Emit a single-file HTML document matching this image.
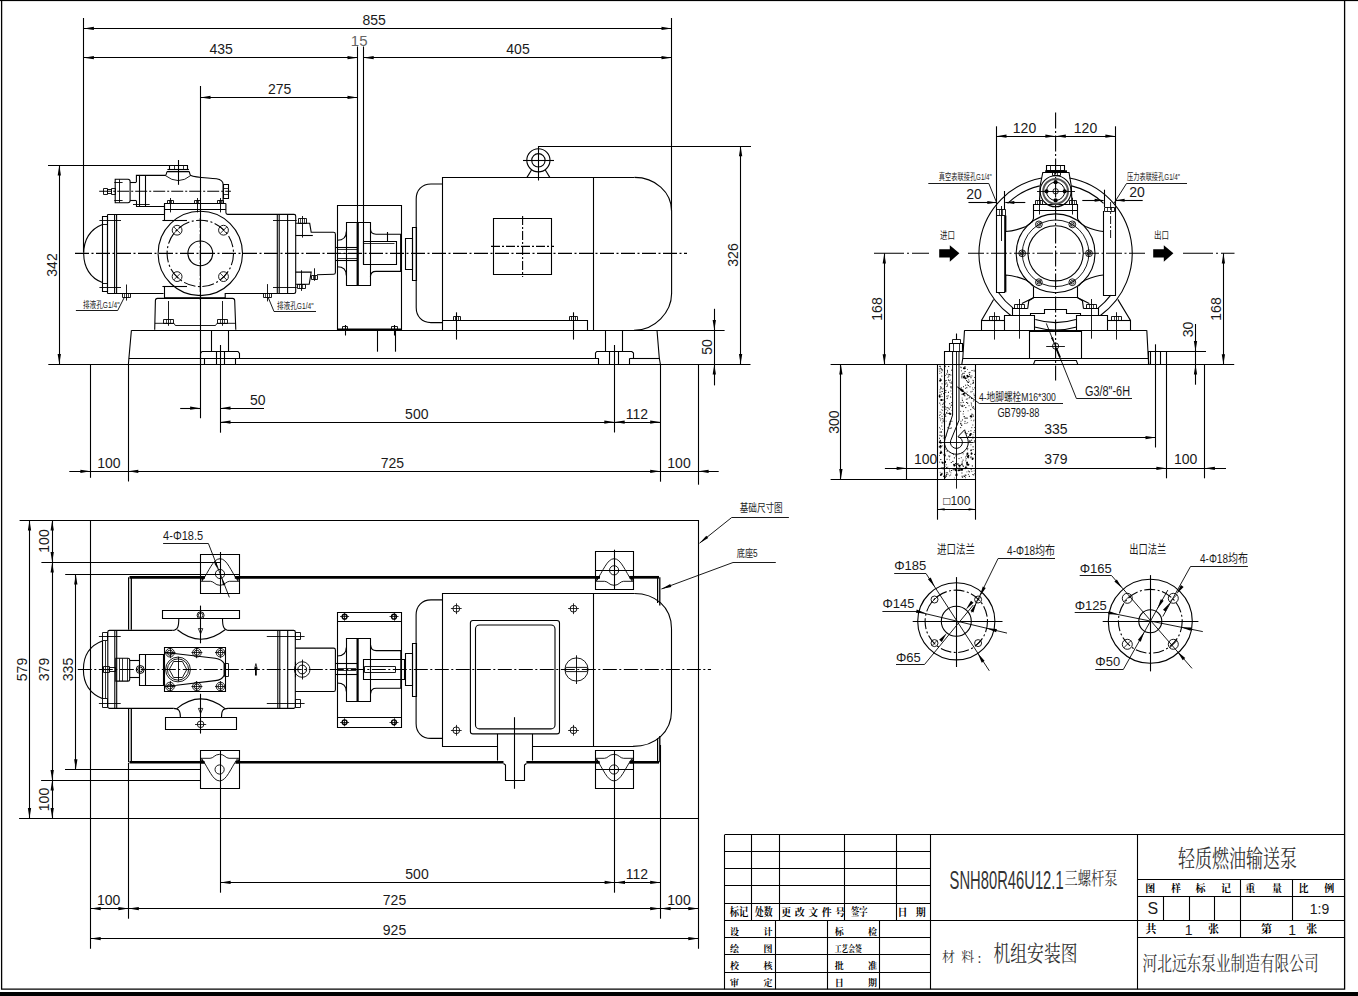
<!DOCTYPE html>
<html><head><meta charset="utf-8"><title>drawing</title>
<style>html,body{margin:0;padding:0;background:#fff;overflow:hidden;font-family:"Liberation Sans",sans-serif}svg{display:block}
svg text{fill:#1a1a1a;stroke:none;font-family:"Liberation Sans","Noto Sans CJK SC",sans-serif}
svg text.d{font-size:14px;text-anchor:middle}
svg text.b{font-family:"Liberation Serif","Noto Serif CJK SC",serif;font-weight:bold;fill:#000}
svg text.g{font-family:"Liberation Serif","Noto Serif CJK SC",serif;fill:#333}</style>
</head><body>
<svg width="1358" height="996" viewBox="0 0 1358 996" fill="none" stroke="#000" stroke-width="1.1">
<rect x="0" y="0" width="1358" height="996" fill="#fff" stroke="none"/>
<!-- frame -->
<path d="M1.6 0L1.6 989.2L1344.6 989.2L1344.6 0" stroke-width="1.3"/>
<rect x="0" y="0" width="1358" height="1.1" fill="#000" stroke="none"/>
<rect x="0" y="992" width="1358" height="4" fill="#000" stroke="none"/>
<!-- front view -->
<path d="M83.5 18L83.5 252"/>
<path d="M671.5 18L671.5 211"/>
<path d="M357.5 46.5L357.5 285"/>
<path d="M363.5 46.5L363.5 264"/>
<path d="M200.5 86L200.5 418.2"/>
<path d="M83.7 28.5L671.7 28.5"/>
<path d="M83.7 28.4L93.9 26.75L93.9 30.05Z" fill="#000" stroke="none"/>
<path d="M671.7 28.4L661.5 30.05L661.5 26.75Z" fill="#000" stroke="none"/>
<text class="d" x="374.2" y="25.2">855</text>
<path d="M83.7 57.5L357.7 57.5"/>
<path d="M83.7 57.7L93.9 56.05L93.9 59.35Z" fill="#000" stroke="none"/>
<path d="M357.7 57.7L347.5 59.35L347.5 56.05Z" fill="#000" stroke="none"/>
<path d="M363.5 57.5L671.7 57.5"/>
<path d="M363.5 57.7L373.7 56.05L373.7 59.35Z" fill="#000" stroke="none"/>
<path d="M671.7 57.7L661.5 59.35L661.5 56.05Z" fill="#000" stroke="none"/>
<text class="d" x="221.2" y="54.4">435</text>
<text class="d" x="518" y="54.4">405</text>
<text x="359.2" y="46.2" text-anchor="middle" font-size="15" style="fill:#666">15</text>
<path d="M200.3 97.5L357.7 97.5"/>
<path d="M200.3 97.4L210.5 95.75L210.5 99.05Z" fill="#000" stroke="none"/>
<path d="M357.7 97.4L347.5 99.05L347.5 95.75Z" fill="#000" stroke="none"/>
<text class="d" x="279.6" y="94">275</text>
<path d="M48 165.5L178.5 165.5"/>
<path d="M59.5 165.3L59.5 364.3"/>
<path d="M59.3 165.3L60.95 175.5L57.65 175.5Z" fill="#000" stroke="none"/>
<path d="M59.3 364.3L57.65 354.1L60.95 354.1Z" fill="#000" stroke="none"/>
<text class="d" transform="translate(57 265) rotate(-90)">342</text>
<path d="M48.3 364.5L750.5 364.5"/>
<path d="M538.3 146.5L751 146.5"/>
<path d="M740.5 146.1L740.5 364.3"/>
<path d="M740.6 146.1L742.25 156.3L738.95 156.3Z" fill="#000" stroke="none"/>
<path d="M740.6 364.3L738.95 354.1L742.25 354.1Z" fill="#000" stroke="none"/>
<text class="d" transform="translate(738 255) rotate(-90)">326</text>
<path d="M587 330.5L724.6 330.5"/>
<path d="M714.5 308.8L714.5 385.4"/>
<path d="M714.3 330.3L712.65 320.1L715.95 320.1Z" fill="#000" stroke="none"/>
<path d="M714.3 364.3L715.95 374.5L712.65 374.5Z" fill="#000" stroke="none"/>
<text class="d" transform="translate(712 347) rotate(-90)">50</text>
<path d="M131.4 330.5L657 330.5"/>
<path d="M131.4 330.3L128.9 358.3L128.4 364.3"/>
<path d="M657 330.3L659.3 358.3L660.4 364.3"/>
<path d="M128.9 358.5L598.6 358.5"/>
<path d="M629.8 358.5L659.8 358.5"/>
<path d="M211.5 330.3L211.5 351.8"/>
<path d="M228.5 330.3L228.5 351.8"/>
<path d="M200.5 364.3L200.5 353.5L202 351.5L238 351.5L239.5 353.5L239.5 358.3"/>
<path d="M204.5 358.3L204.5 364.3"/>
<path d="M216.5 351.8L216.5 364.3"/>
<path d="M224.5 351.8L224.5 364.3"/>
<path d="M235.5 358.3L235.5 364.3"/>
<path d="M220.5 345L220.5 432.7"/>
<path d="M605.5 330.3L605.5 351.5"/>
<path d="M622.5 330.3L622.5 351.5"/>
<path d="M598.6 358.5L595.5 358.5L595.5 353L596.8 351.5L631.8 351.5L633.5 353L633.5 358.5L629.8 358.5"/>
<path d="M609.5 351.5L609.5 364.3"/>
<path d="M618.5 351.5L618.5 364.3"/>
<path d="M614.5 345L614.5 432.5"/>
<path d="M598.5 358.3L598.5 364.3"/>
<path d="M629.5 358.3L629.5 364.3"/>
<path d="M128.5 364.3L128.5 481.5"/>
<path d="M90.5 364.3L90.5 477.8"/>
<path d="M660.5 364.3L660.5 481.7"/>
<path d="M698.5 364.3L698.5 484.7"/>
<path d="M69.3 471.5L718.7 471.5"/>
<path d="M90.6 471.3L80.4 472.95L80.4 469.65Z" fill="#000" stroke="none"/>
<path d="M128.1 471.3L138.3 469.65L138.3 472.95Z" fill="#000" stroke="none"/>
<path d="M660.4 471.3L650.2 472.95L650.2 469.65Z" fill="#000" stroke="none"/>
<path d="M698.4 471.3L708.6 469.65L708.6 472.95Z" fill="#000" stroke="none"/>
<text class="d" x="108.9" y="467.6">100</text>
<text class="d" x="392.4" y="467.6">725</text>
<text class="d" x="679" y="467.6">100</text>
<path d="M220.3 422.5L660.4 422.5"/>
<path d="M220.3 422.1L230.5 420.45L230.5 423.75Z" fill="#000" stroke="none"/>
<path d="M614.5 422.1L604.3 423.75L604.3 420.45Z" fill="#000" stroke="none"/>
<path d="M614.5 422.1L624.7 420.45L624.7 423.75Z" fill="#000" stroke="none"/>
<path d="M660.4 422.1L650.2 423.75L650.2 420.45Z" fill="#000" stroke="none"/>
<text class="d" x="416.8" y="418.6">500</text>
<text class="d" x="637" y="418.6">112</text>
<path d="M180.2 408.5L200.3 408.5"/>
<path d="M200.3 408.2L190.1 409.85L190.1 406.55Z" fill="#000" stroke="none"/>
<path d="M220.3 408.5L264 408.5"/>
<path d="M220.3 408.2L230.5 406.55L230.5 409.85Z" fill="#000" stroke="none"/>
<text class="d" x="257.8" y="404.6">50</text>
<path d="M593.5 330.5L442.5 330.5L442.5 177.5L634.5 177.5"/>
<path d="M634.5 177.4C655 177.4 671.6 192 671.6 211L671.6 293.5C671.6 312 655 330.3 634 330.3"/>
<path d="M593.5 177.4L593.5 330.3"/>
<path d="M442.5 184L431 184C422 184 416.2 190 416.2 199L416.2 307.6C416.2 316.6 422 322.6 431 322.6L442.5 322.6"/>
<path d="M412.5 227.5L416.5 227.5L416.5 280.5L412.5 280.5Z"/>
<path d="M405.5 238.5L412.5 238.5L412.5 269.5L405.5 269.5Z"/>
<path d="M442.5 320.5L587.5 320.5L587.5 330.3"/>
<path d="M456.5 312.3L456.5 339.6"/>
<path d="M453.5 316.5L460.5 316.5L460.5 320.5L453.5 320.5Z" stroke-width="0.9"/>
<path d="M455.5 316.4L455.5 320.2" stroke-width="0.8"/>
<path d="M458.5 316.4L458.5 320.2" stroke-width="0.8"/>
<path d="M573.5 312.3L573.5 339.6"/>
<path d="M569.5 316.5L577.5 316.5L577.5 320.5L569.5 320.5Z" stroke-width="0.9"/>
<path d="M571.5 316.4L571.5 320.2" stroke-width="0.8"/>
<path d="M575.5 316.4L575.5 320.2" stroke-width="0.8"/>
<path d="M493.5 218.5L551.5 218.5L551.5 274.5L493.5 274.5Z"/>
<path d="M522.6 216L522.6 277" stroke-dasharray="9 2 2 2"/>
<path d="M491 246.4L554 246.4" stroke-dasharray="9 2 2 2"/>
<circle cx="538.4" cy="160.3" r="11.6"/>
<circle cx="538.4" cy="160.3" r="6.7"/>
<path d="M523 160.5L554 160.5"/>
<path d="M538.5 146.1L538.5 180.5"/>
<path d="M531.5 170L527 177.4"/>
<path d="M545.3 170L549.8 177.4"/>
<path d="M75 253.4L687 253.4" stroke-dasharray="14 2.5 2 2.5"/>
<path d="M337.5 330.3L337.5 205.5L401.5 205.5L401.5 330.3"/>
<path d="M338 329.4L401 329.4" stroke-width="1.6"/>
<path d="M346.5 222.5L370.5 222.5L370.5 285.5L346.5 285.5Z"/>
<path d="M357.7 222.2L357.7 285" stroke-width="2.2"/>
<path d="M337.3 240.2C343 240.2 346.3 237 346.3 231.5"/>
<path d="M337.3 266.8C343 266.8 346.3 270 346.3 275.5"/>
<path d="M335.4 247.5L357.7 247.5"/>
<path d="M335.4 260.5L357.7 260.5"/>
<path d="M337.3 249.5L357.7 249.5" stroke-width="0.8"/>
<path d="M337.3 258.5L357.7 258.5" stroke-width="0.8"/>
<path d="M337.3 253.5L357.7 253.5" stroke-width="0.8"/>
<path d="M370.4 228.8Q370.6 234.2 376 234.2L401 234.2L401 271.4L376 271.4Q370.6 271.4 370.4 276.8"/>
<path d="M401 234.2L401 271.4" stroke-width="1.6"/>
<path d="M363.5 241.5L396.5 241.5L396.5 264.5L363.5 264.5Z"/>
<path d="M387.5 232L387.5 241.8"/>
<path d="M363.5 243.5L394.5 243.5" stroke-width="0.8"/>
<path d="M377.5 330.3L377.5 351.7"/>
<path d="M395.5 330.3L395.5 351.7"/>
<path d="M345.5 325L345.5 335.5"/>
<path d="M342.5 326.5L347.5 326.5L347.5 329.5L342.5 329.5Z" stroke-width="0.9"/>
<path d="M394.5 325L394.5 335.5"/>
<path d="M391.5 326.5L397.5 326.5L397.5 329.5L391.5 329.5Z" stroke-width="0.9"/>
<!-- pump front view -->
<circle cx="200.3" cy="253.4" r="42.2"/>
<circle cx="200.3" cy="253.4" r="12.4"/>
<circle cx="200.3" cy="253.4" r="33.2" stroke-dasharray="12 2.5 2 2.5"/>
<circle cx="177.1" cy="230.2" r="4.9" stroke-width="0.9"/>
<path d="M173.7 226.8L180.5 233.6" stroke-width="0.8"/>
<path d="M173.7 233.6L180.5 226.8" stroke-width="0.8"/>
<circle cx="177.1" cy="276.6" r="4.9" stroke-width="0.9"/>
<path d="M173.7 273.2L180.5 280" stroke-width="0.8"/>
<path d="M173.7 280L180.5 273.2" stroke-width="0.8"/>
<circle cx="223.5" cy="230.2" r="4.9" stroke-width="0.9"/>
<path d="M220.1 226.8L226.9 233.6" stroke-width="0.8"/>
<path d="M220.1 233.6L226.9 226.8" stroke-width="0.8"/>
<circle cx="223.5" cy="276.6" r="4.9" stroke-width="0.9"/>
<path d="M220.1 273.2L226.9 280" stroke-width="0.8"/>
<path d="M220.1 280L226.9 273.2" stroke-width="0.8"/>
<path d="M200.3 218L200.3 300" stroke-dasharray="10 2 2 2"/>
<path d="M107.5 214.5L164.4 214.5"/>
<path d="M225.9 203.4L225.9 212.6Q225.9 214.4 227.6 214.4L294 214.4Q295.7 214.4 295.7 216L295.7 291.8Q295.7 293.5 294 293.5L225.2 293.5L225.2 298.1"/>
<path d="M107.5 293.5L163.6 293.5"/>
<path d="M107.5 214.4L107.5 293.5M114.6 214.4L114.6 293.5M116.6 214.4L116.6 293.5"/>
<path d="M102.5 216.5L107.5 216.5L107.5 291.5L102.5 291.5Z"/>
<path d="M99.4 220.5L121 220.5" stroke-width="0.9"/>
<path d="M99.4 287.5L121 287.5" stroke-width="0.9"/>
<path d="M102.5 216.5L107.5 216.5L107.5 224.5L102.5 224.5Z" stroke-width="0.9"/>
<path d="M102.5 283.5L107.5 283.5L107.5 291.5L102.5 291.5Z" stroke-width="0.9"/>
<path d="M102.4 224.4C90 229 83.7 240 83.7 253.4C83.7 267 90 278 102.4 282.5"/>
<path d="M277.3 214.4L277.3 293.5M279.2 214.4L279.2 293.5M287.6 214.4L287.6 293.5"/>
<path d="M273 220.5L296.7 220.5" stroke-width="0.9"/>
<path d="M273 287.5L296.7 287.5" stroke-width="0.9"/>
<path d="M162.4 220.5L187 220.5"/>
<path d="M162.4 286.5L187 286.5"/>
<path d="M164.5 203.4L164.5 220.3"/>
<path d="M164.5 286.2L164.5 298.2"/>
<path d="M164.5 214.4L164.5 203.5L225.9 203.5"/>
<path d="M164.4 209.5L225.9 209.5"/>
<path d="M170.5 198L170.5 212.4" stroke-width="0.9"/>
<path d="M167.5 200.5L173.5 200.5L173.5 203.5L167.5 203.5Z" stroke-width="0.9"/>
<path d="M169.5 200.3L169.5 203.4" stroke-width="0.7"/>
<path d="M171.5 200.3L171.5 203.4" stroke-width="0.7"/>
<path d="M197.5 198L197.5 212.4" stroke-width="0.9"/>
<path d="M194.5 200.5L200.5 200.5L200.5 203.5L194.5 203.5Z" stroke-width="0.9"/>
<path d="M196.5 200.3L196.5 203.4" stroke-width="0.7"/>
<path d="M198.5 200.3L198.5 203.4" stroke-width="0.7"/>
<path d="M220.5 198L220.5 212.4" stroke-width="0.9"/>
<path d="M217.5 200.5L223.5 200.5L223.5 203.5L217.5 203.5Z" stroke-width="0.9"/>
<path d="M219.5 200.3L219.5 203.4" stroke-width="0.7"/>
<path d="M221.5 200.3L221.5 203.4" stroke-width="0.7"/>
<path d="M136.4 182L136.4 175.4L165.1 175.4C167 175.4 166 172.2 167.4 171.6L188.9 171.6C190.2 172.2 189.4 175.4 190.9 175.4C195 177.5 205 177.6 216.5 178.7C220.5 179.4 223.1 181 223.1 184.3L223.1 203.4"/>
<path d="M165.1 175.4Q178.5 185.8 190.9 175.4" stroke-width="0.9"/>
<path d="M169.5 165.5L187.5 165.5L187.5 169.5L169.5 169.5Z"/>
<path d="M167.4 169.5L188.9 169.5"/>
<path d="M167.4 171.5L188.9 171.5"/>
<path d="M174.5 165.5L174.5 169.1" stroke-width="0.8"/>
<path d="M178.5 165.5L178.5 169.1" stroke-width="0.8"/>
<path d="M183.5 165.5L183.5 169.1" stroke-width="0.8"/>
<path d="M178.5 160L178.5 184.8"/>
<path d="M139.5 175.4L139.5 206.9"/>
<path d="M145.5 175.4L145.5 206.9"/>
<path d="M136.5 200.8L136.5 206.5L164.4 206.5"/>
<path d="M133 204.5L149.7 204.5" stroke-width="0.9"/>
<path d="M130.1 182.5L136.4 182.5"/>
<path d="M130.1 200.5L136.4 200.5"/>
<path d="M115.2 179.3L128 179.3Q130.1 179.3 130.1 181.5L130.1 200.5Q130.1 202.7 128 202.7L115.2 202.7Z"/>
<path d="M119.5 179.3L119.5 202.7" stroke-width="0.9"/>
<path d="M114.3 182.5L122.6 182.5" stroke-width="0.9"/>
<path d="M114.3 200.5L122.6 200.5" stroke-width="0.9"/>
<path d="M103.5 188.5L107.5 188.5L107.5 194.5L103.5 194.5Z" stroke-width="0.9"/>
<path d="M107.5 189.5L111.5 189.5L111.5 193.5L107.5 193.5Z" stroke-width="0.9"/>
<path d="M111.5 188.5L115.5 188.5L115.5 194.5L111.5 194.5Z" stroke-width="0.9"/>
<path d="M99.2 191.2L230.9 191.2" stroke-dasharray="12 2 2 2"/>
<path d="M223.5 184.5L228.5 184.5L228.5 198.5L223.5 198.5Z"/>
<path d="M223.1 188.5L228.7 188.5" stroke-width="0.8"/>
<path d="M223.1 194.5L228.7 194.5" stroke-width="0.8"/>
<path d="M295.7 223.3L309.7 223.3L311.2 232.3L333.5 232.3Q335.4 232.3 335.4 234.2L335.4 272.4Q335.4 274.3 333.5 274.3L317 274.8"/>
<path d="M295.7 235.5L312.8 235.5"/>
<path d="M295.7 272.1L311.2 272.1L309.2 284.3L295.7 284.3"/>
<path d="M302.5 216L302.5 237.6" stroke-width="0.9"/>
<path d="M298.5 218.5L306.5 218.5L306.5 223.5L298.5 223.5Z" stroke-width="0.9"/>
<path d="M300.5 218.6L300.5 223.3" stroke-width="0.7"/>
<path d="M304.5 218.6L304.5 223.3" stroke-width="0.7"/>
<path d="M301.5 270.3L301.5 290.9" stroke-width="0.9"/>
<path d="M297.5 284.5L305.5 284.5L305.5 288.5L297.5 288.5Z" stroke-width="0.9"/>
<path d="M299.5 284.9L299.5 288.4" stroke-width="0.7"/>
<path d="M302.5 284.9L302.5 288.4" stroke-width="0.7"/>
<path d="M314.5 268.3L314.5 280.8" stroke-width="0.9"/>
<path d="M311.5 275.5L317.5 275.5L317.5 279.5L311.5 279.5Z" stroke-width="0.9"/>
<path d="M313.5 275.8L313.5 279.3" stroke-width="0.7"/>
<path d="M315.5 275.8L315.5 279.3" stroke-width="0.7"/>
<path d="M267.5 284.1L267.5 301.4" stroke-width="0.9"/>
<path d="M263.5 293.5L271.5 293.5L271.5 297.5L263.5 297.5Z" stroke-width="0.9"/>
<path d="M265.5 293.9L265.5 297.4" stroke-width="0.7"/>
<path d="M269.5 293.9L269.5 297.4" stroke-width="0.7"/>
<path d="M126.5 284.5L126.5 300.6" stroke-width="0.9"/>
<path d="M122.5 293.5L130.5 293.5L130.5 297.5L122.5 297.5Z" stroke-width="0.9"/>
<path d="M124.5 293.8L124.5 297.7" stroke-width="0.7"/>
<path d="M128.5 293.8L128.5 297.7" stroke-width="0.7"/>
<text x="83" y="307.5" font-size="9" textLength="36.5" lengthAdjust="spacingAndGlyphs">排液孔G1/4"</text>
<path d="M75.9 310.5L117.7 310.5L124.2 297.6" stroke-width="0.9"/>
<text x="277" y="308.7" font-size="9" textLength="36.5" lengthAdjust="spacingAndGlyphs">排液孔G1/4"</text>
<path d="M316 311.5L274 311.5L268 297" stroke-width="0.9"/>
<path d="M164.3 298L225.2 298" stroke-width="1.7"/>
<path d="M157.5 298.4L232.5 298.4Q234.6 298.4 234.7 300.5L235.8 329.7M157.5 298.4Q155.5 298.4 155.4 300.5L154.7 329.7"/>
<path d="M155 323.3L174 323.3L175.3 325.5L215.5 325.5L217 323.3L235.4 323.3" stroke-width="0.9"/>
<path d="M168.5 301L168.5 325.8" stroke-width="0.9"/>
<path d="M163.5 319.5L173.5 319.5L173.5 323.5L163.5 323.5Z" stroke-width="0.9"/>
<path d="M166.5 319.3L166.5 323.3" stroke-width="0.7"/>
<path d="M170.5 319.3L170.5 323.3" stroke-width="0.7"/>
<path d="M222.5 301L222.5 325.8" stroke-width="0.9"/>
<path d="M217.5 319.5L227.5 319.5L227.5 323.5L217.5 323.5Z" stroke-width="0.9"/>
<path d="M220.5 319.3L220.5 323.3" stroke-width="0.7"/>
<path d="M224.5 319.3L224.5 323.3" stroke-width="0.7"/>
<!-- side view -->
<path d="M1055.6 112.4L1055.6 380.5" stroke-dasharray="16 2.5 2 2.5"/>
<path d="M874 253.3L929 253.3" stroke-dasharray="30 3 2 3"/>
<path d="M968 253.3L1146 253.3" stroke-dasharray="16 2.5 2 2.5"/>
<path d="M1183 253.3L1234.5 253.3" stroke-dasharray="30 3 2 3"/>
<path d="M996.5 126.3L996.5 206.7"/>
<path d="M1115.5 126.3L1115.5 206.7"/>
<path d="M996.3 136.5L1115.6 136.5"/>
<path d="M996.3 136.2L1006.5 134.55L1006.5 137.85Z" fill="#000" stroke="none"/>
<path d="M1055.6 136.2L1045.4 137.85L1045.4 134.55Z" fill="#000" stroke="none"/>
<path d="M1055.6 136.2L1065.8 134.55L1065.8 137.85Z" fill="#000" stroke="none"/>
<path d="M1115.6 136.2L1105.4 137.85L1105.4 134.55Z" fill="#000" stroke="none"/>
<text class="d" x="1024.5" y="132.6">120</text>
<text class="d" x="1085.5" y="132.6">120</text>
<path d="M1069.43 177.96A76.6 76.6 0 0 1 1131.04 240"/>
<path d="M1131.04 240A76.6 76.6 0 0 1 1100.41 315.43"/>
<path d="M1041.77 177.96A76.6 76.6 0 0 0 980.16 240"/>
<path d="M980.16 240A76.6 76.6 0 0 0 1010.79 315.43"/>
<path d="M1076.71 326.93A76.6 76.6 0 0 1 1034.49 326.93"/>
<path d="M1071.54 185.86A69.3 69.3 0 0 1 1103.57 203.28"/>
<path d="M1039.66 185.86A69.3 69.3 0 0 0 1007.63 203.28"/>
<path d="M1110.8 295.2A69.3 69.3 0 0 1 1098.07 308.06"/>
<path d="M998.42 292.45A69.3 69.3 0 0 0 1013.13 308.06"/>
<path d="M1075.86 319.57A69.3 69.3 0 0 1 1035.34 319.57"/>
<circle cx="1055.6" cy="253.3" r="39.4"/>
<circle cx="1055.6" cy="253.3" r="33.3" stroke-width="0.9"/>
<circle cx="1055.6" cy="253.3" r="27.6"/>
<circle cx="1089" cy="253.3" r="3.4" stroke-width="0.9"/>
<circle cx="1089" cy="253.3" r="1.8" stroke-width="0.8"/>
<path d="M1086.6 255.7L1091.4 250.9" stroke-width="0.7"/>
<circle cx="1072.3" cy="282.23" r="3.4" stroke-width="0.9"/>
<circle cx="1072.3" cy="282.23" r="1.8" stroke-width="0.8"/>
<path d="M1069.9 284.63L1074.7 279.83" stroke-width="0.7"/>
<circle cx="1038.9" cy="282.23" r="3.4" stroke-width="0.9"/>
<circle cx="1038.9" cy="282.23" r="1.8" stroke-width="0.8"/>
<path d="M1036.5 284.63L1041.3 279.83" stroke-width="0.7"/>
<circle cx="1022.2" cy="253.3" r="3.4" stroke-width="0.9"/>
<circle cx="1022.2" cy="253.3" r="1.8" stroke-width="0.8"/>
<path d="M1019.8 255.7L1024.6 250.9" stroke-width="0.7"/>
<circle cx="1038.9" cy="224.37" r="3.4" stroke-width="0.9"/>
<circle cx="1038.9" cy="224.37" r="1.8" stroke-width="0.8"/>
<path d="M1036.5 226.77L1041.3 221.97" stroke-width="0.7"/>
<circle cx="1072.3" cy="224.37" r="3.4" stroke-width="0.9"/>
<circle cx="1072.3" cy="224.37" r="1.8" stroke-width="0.8"/>
<path d="M1069.9 226.77L1074.7 221.97" stroke-width="0.7"/>
<path d="M996.5 206.7L996.5 292.5L1004.5 292.5L1005.5 291L1005.5 215.5"/>
<path d="M1004.5 215.5L1004.5 292.4" stroke-width="0.8"/>
<path d="M1103.5 211L1103.5 295.5L1115.5 295.5L1115.5 206.7"/>
<path d="M1001.5 206L1001.5 241" stroke-width="0.9"/>
<path d="M1110.6 202L1110.6 239" stroke-dasharray="8 2 2 2" stroke-width="0.9"/>
<path d="M996.5 209.5L1005.5 209.5L1005.5 215.5L996.5 215.5Z" stroke-width="0.9"/>
<path d="M999.5 209.7L999.5 215.3" stroke-width="0.7"/>
<path d="M1002.5 209.7L1002.5 215.3" stroke-width="0.7"/>
<path d="M1004.5 191L1004.5 209.7"/>
<path d="M1104.5 207.5L1114.5 207.5L1114.5 211.5L1104.5 211.5Z" stroke-width="0.9"/>
<path d="M1107.5 207L1107.5 211" stroke-width="0.7"/>
<path d="M1111.5 207L1111.5 211" stroke-width="0.7"/>
<path d="M1104.5 189.7L1104.5 207"/>
<path d="M1005.8 215.5L1005.8 231.5C1012 231.3 1020 229 1026 226.6C1029 225 1031.5 222.5 1033 220.3"/>
<path d="M1005.8 292.3L1005.8 275C1012 275.3 1020 277.6 1026 280C1029 281.6 1031.5 284 1033 286.3"/>
<path d="M1103.3 231.5C1097 231.3 1091 229 1085.4 226.6C1082 225 1080 222.5 1078.4 220.3"/>
<path d="M1103.3 275C1097 275.3 1091 277.6 1085.4 280C1082 281.6 1080 284 1078.4 286.3"/>
<path d="M1031.9 222.4L1033.5 218.5L1033.5 204.5L1077.5 204.5L1077.5 218.5L1079.2 222.4"/>
<path d="M1033.4 210.5L1077.6 210.5"/>
<path d="M1035.5 200.5L1042.5 200.5L1042.5 204.5L1035.5 204.5Z" stroke-width="0.9"/>
<path d="M1037.5 200L1037.5 204.4" stroke-width="0.7"/>
<path d="M1040.5 200L1040.5 204.4" stroke-width="0.7"/>
<path d="M1069.5 200.5L1076.5 200.5L1076.5 204.5L1069.5 204.5Z" stroke-width="0.9"/>
<path d="M1071.5 200L1071.5 204.4" stroke-width="0.7"/>
<path d="M1074.5 200L1074.5 204.4" stroke-width="0.7"/>
<path d="M1039.5 197.7L1039.5 214.5" stroke-width="0.9"/>
<path d="M1072.5 197.7L1072.5 214.5" stroke-width="0.9"/>
<path d="M1040.1 186L1042.8 172.5L1069 172.5L1071.3 186"/>
<path d="M1045.2 171.4L1067 171.4" stroke-width="2.2"/>
<path d="M1046.5 165.5L1064.5 165.5L1064.5 170.5L1046.5 170.5Z"/>
<path d="M1050.5 165.1L1050.5 170.4" stroke-width="0.8"/>
<path d="M1055.5 165.1L1055.5 170.4" stroke-width="0.8"/>
<path d="M1060.5 165.1L1060.5 170.4" stroke-width="0.8"/>
<path d="M1052.5 172.5L1060.5 172.5L1060.5 175.5L1052.5 175.5Z" stroke-width="0.9"/>
<path d="M1054.5 172.5L1054.5 175.5" stroke-width="0.7"/>
<path d="M1057.5 172.5L1057.5 175.5" stroke-width="0.7"/>
<circle cx="1055.6" cy="191.3" r="15.5"/>
<circle cx="1055.6" cy="191.3" r="12.4" stroke-width="2" stroke="#555"/>
<circle cx="1055.6" cy="191.3" r="9.1" stroke-width="1"/>
<circle cx="1055.6" cy="191.3" r="2.7" stroke-width="0.9"/>
<circle cx="1055.6" cy="182.2" r="2.1" fill="#000" stroke="none"/>
<circle cx="1064.7" cy="191.3" r="2.1" fill="#000" stroke="none"/>
<circle cx="1055.6" cy="200.4" r="2.1" fill="#000" stroke="none"/>
<circle cx="1046.5" cy="191.3" r="2.1" fill="#000" stroke="none"/>
<path d="M1037 191.5L1075 191.5" stroke-width="0.9"/>
<path d="M1040.1 186L1039.6 200"/>
<path d="M1071.3 186L1071.8 200"/>
<path d="M1033.5 286.5L1033.5 297.5L1077.5 297.5L1077.5 286.5"/>
<path d="M1033.5 297.7L1028.8 300.7L1027.7 308.6"/>
<path d="M1021.9 303.5L1033.5 297.7"/>
<path d="M1077.7 297.7L1082.4 300.7L1083.5 308.6"/>
<path d="M1089.3 303.5L1077.7 297.7"/>
<path d="M1012.5 315.3L1012.5 308.5L1027.7 308.5"/>
<path d="M1014.5 304.5L1024.5 304.5L1024.5 308.5L1014.5 308.5Z" stroke-width="0.9"/>
<path d="M1017.5 304.2L1017.5 308.6" stroke-width="0.7"/>
<path d="M1021.5 304.2L1021.5 308.6" stroke-width="0.7"/>
<path d="M1019.5 299L1019.5 338.7" stroke-width="0.9"/>
<path d="M1098.5 315.3L1098.5 308.5L1083.5 308.5"/>
<path d="M1086.5 304.5L1096.5 304.5L1096.5 308.5L1086.5 308.5Z" stroke-width="0.9"/>
<path d="M1089.5 304.2L1089.5 308.6" stroke-width="0.7"/>
<path d="M1093.5 304.2L1093.5 308.6" stroke-width="0.7"/>
<path d="M1091.5 299L1091.5 338.7" stroke-width="0.9"/>
<path d="M1030.5 315.5L1030.5 313.5L1044.5 313.5L1044.5 309.5L1066.5 309.5L1066.5 313.5L1080.5 313.5L1080.5 315.5"/>
<path d="M1004.5 330.3L1004.5 315.5L1034.5 315.5L1034.5 330.3"/>
<path d="M1076.5 330.3L1076.5 315.5L1107.5 315.5L1107.5 330.3"/>
<path d="M993.6 299.4L981.5 320.4L981.5 330.3"/>
<path d="M981.3 320.5L1004.5 320.5"/>
<path d="M1117.8 299.4L1130.5 320.4L1130.5 330.3"/>
<path d="M1107.5 320.5L1130.8 320.5"/>
<path d="M989.5 316.5L999.5 316.5L999.5 320.5L989.5 320.5Z" stroke-width="0.9"/>
<path d="M992.5 316.1L992.5 320.4" stroke-width="0.7"/>
<path d="M996.5 316.1L996.5 320.4" stroke-width="0.7"/>
<path d="M994.5 312.2L994.5 339.6" stroke-width="0.9"/>
<path d="M1111.5 316.5L1121.5 316.5L1121.5 320.5L1111.5 320.5Z" stroke-width="0.9"/>
<path d="M1114.5 316.1L1114.5 320.4" stroke-width="0.7"/>
<path d="M1118.5 316.1L1118.5 320.4" stroke-width="0.7"/>
<path d="M1116.5 312.2L1116.5 339.6" stroke-width="0.9"/>
<path d="M964.5 330.5L1146.8 330.5"/>
<path d="M964.5 330.3L962.8 358.3L961.8 364.4"/>
<path d="M1146.8 330.3L1148.3 358.3L1148.8 364.4"/>
<path d="M962.8 358.5L1148.3 358.5"/>
<path d="M1033.5 364.4L1035 360.5L1076.3 360.5L1077.8 364.4"/>
<path d="M1029.5 358.3L1029.5 331.5L1081.5 331.5L1081.5 358.3"/>
<circle cx="1055.6" cy="346.1" r="3.1" stroke-width="0.9"/>
<path d="M1046.2 346.5L1064.9 346.5" stroke-width="0.9"/>
<path d="M1046.3 323.4L1076.4 398.5L1132 398.5" stroke-width="0.9"/>
<path d="M1054.6 344L1050.96 337.92L1053 337.1Z" fill="#000" stroke="none"/>
<path d="M1056.3 348.3L1060 357.4" stroke-width="1.8"/>
<text x="1085" y="396" font-size="14" textLength="45" lengthAdjust="spacingAndGlyphs">G3/8"-6H</text>
<path d="M830.6 364.5L1234.2 364.5"/>
<path d="M884.5 253.3L884.5 364.4"/>
<path d="M884.3 253.3L885.95 263.5L882.65 263.5Z" fill="#000" stroke="none"/>
<path d="M884.3 364.4L882.65 354.2L885.95 354.2Z" fill="#000" stroke="none"/>
<text class="d" transform="translate(882 309) rotate(-90)">168</text>
<path d="M1223.5 253.3L1223.5 364.4"/>
<path d="M1223.4 253.3L1225.05 263.5L1221.75 263.5Z" fill="#000" stroke="none"/>
<path d="M1223.4 364.4L1221.75 354.2L1225.05 354.2Z" fill="#000" stroke="none"/>
<text class="d" transform="translate(1221 309) rotate(-90)">168</text>
<path d="M1155.6 351.5L1206 351.5"/>
<path d="M1195.5 324L1195.5 384.7"/>
<path d="M1195.5 351.3L1193.85 341.1L1197.15 341.1Z" fill="#000" stroke="none"/>
<path d="M1195.5 364.4L1197.15 374.6L1193.85 374.6Z" fill="#000" stroke="none"/>
<text class="d" transform="translate(1193 329.5) rotate(-90)">30</text>
<path d="M1148.5 364.4L1148.5 351.5L1166.6 351.5"/>
<path d="M1150.5 351.6L1150.5 364.4"/>
<path d="M1160.5 351.6L1160.5 364.4"/>
<path d="M1155.5 344.3L1155.5 447.5"/>
<path d="M1166.5 351.6L1166.5 478.3"/>
<path d="M944.5 364.4L944.5 351.5L962.3 351.5"/>
<path d="M949.5 343.5L962.5 343.5L962.5 351.5L949.5 351.5Z"/>
<path d="M952.5 339.5L960.5 339.5L960.5 343.5L952.5 343.5Z" stroke-width="0.9"/>
<path d="M953.5 343.6L953.5 351" stroke-width="0.8"/>
<path d="M959.5 343.6L959.5 351" stroke-width="0.8"/>
<path d="M956.5 333.5L956.5 339.6"/>
<path d="M939.2 249.3h10.6v-4l9.6 8l-9.6 8.4v-4.1h-10.6z" fill="#000" stroke="none"/>
<path d="M1153.2 249.3h10.6v-4l9.6 8l-9.6 8.4v-4.1h-10.6z" fill="#000" stroke="none"/>
<text x="940" y="239" font-size="10" textLength="15" lengthAdjust="spacingAndGlyphs">进口</text>
<text x="1154" y="239" font-size="10" textLength="15" lengthAdjust="spacingAndGlyphs">出口</text>
<text x="938.8" y="179.5" font-size="9" textLength="53" lengthAdjust="spacingAndGlyphs">真空表联接孔G1/4"</text>
<path d="M928.3 183.5L988.8 183.5L997.2 204" stroke-width="0.9"/>
<text x="1127" y="179.5" font-size="9" textLength="53" lengthAdjust="spacingAndGlyphs">压力表联接孔G1/4"</text>
<path d="M1187 183.5L1126.5 183.5L1113.9 203.4" stroke-width="0.9"/>
<path d="M968.4 202.5L996.3 202.5"/>
<path d="M996.3 202.4L987.3 203.9L987.3 200.9Z" fill="#000" stroke="none"/>
<path d="M1005.3 202.5L1025.3 202.5"/>
<path d="M1005.3 202.4L1014.3 200.9L1014.3 203.9Z" fill="#000" stroke="none"/>
<text class="d" x="974" y="198.5">20</text>
<path d="M1082.3 200.5L1103.6 200.5"/>
<path d="M1103.6 200.2L1094.6 201.7L1094.6 198.7Z" fill="#000" stroke="none"/>
<path d="M1115.6 200.5L1142.7 200.5"/>
<path d="M1115.6 200.2L1124.6 198.7L1124.6 201.7Z" fill="#000" stroke="none"/>
<text class="d" x="1137" y="197">20</text>
<path d="M830.6 479.5L975.7 479.5"/>
<path d="M840.5 364.4L840.5 479.1"/>
<path d="M840.9 364.4L842.55 374.6L839.25 374.6Z" fill="#000" stroke="none"/>
<path d="M840.9 479.1L839.25 468.9L842.55 468.9Z" fill="#000" stroke="none"/>
<text class="d" transform="translate(838.5 422.2) rotate(-90)">300</text>
<path d="M906.5 364.4L906.5 479.1"/>
<path d="M937.5 364.4L937.5 519.7"/>
<path d="M975.5 364.4L975.5 519.7"/>
<path d="M944.5 364.4L944.5 479.1"/>
<path d="M950.26 382.9h0.6M941.21 426.02h1M959.58 467.89h0.8M939.95 414.57h0.6M947.26 427.72h0.6M968.37 379.87h0.8M940.83 431.58h0.6M973.75 371.22h0.8M949.03 382.16h0.6M963.15 377.54h0.8M940.86 372.68h0.8M966.58 418.15h1.2M951.62 393.82h0.8M963.76 393.34h1M957.51 464.02h1.2M948.97 475.78h0.6M950.91 470.53h1.2M940.01 440.84h1M950.84 405.22h1.2M968.84 471.8h1.2M963.69 373.28h1M961.9 477.23h1.2M948.85 409.21h1M939.41 417.71h0.8M960.59 421.29h0.8M966.26 380.49h0.8M952.92 468.68h1.2M941.5 416.31h1M970.4 457.76h1M964.03 476.48h1.2M973.08 382.9h0.8M944.05 439.75h0.6M948.06 366.46h1.2M950.07 380.06h0.6M955.04 463.55h1.2M945.46 476.28h1.2M944.44 404.09h0.6M942.29 429.48h0.6M972.76 434.74h0.6M970.08 434.78h0.8M961.44 473.01h1M956.17 475.52h1.2M942.28 404.38h1M972.87 406.52h0.6M965.89 399.39h0.6M963.66 395.24h1M971.3 405.84h0.8M950.47 390.98h0.8M967.62 457.65h0.8M945.8 421.19h0.6M974.23 454.49h1.2M973.03 416.09h1M972.98 406.84h0.8M942.28 418.65h1M945.96 435.9h0.6M967.39 375.5h0.6M971.35 453.62h0.8M967.01 403.24h1.2M941.66 383.79h0.8M939.59 432.17h1.2M967.63 382.37h1.2M962.26 405.25h0.8M939.37 455.53h0.6M957.56 470.57h1.2M974.12 387.82h0.8M939.61 389.83h0.8M966.09 402.51h1.2M968.63 372.82h1M970.92 440.2h1.2M968.38 464.35h0.8M939.27 415.29h0.8M943.99 381.85h0.6M966.83 377.88h0.6M947.55 397.01h0.6M965.96 468.2h1.2M950.32 475.02h0.8M963.54 416.66h1.2M957.44 464.11h1M971.82 465.99h0.8M968.84 381.36h0.6M962.76 413.97h0.8M962.7 453.8h0.8M972.42 438.07h1M943.75 464.88h1.2M946.51 472.68h1.2M970.46 384.23h0.8M944.41 414.33h1.2M950.81 387.92h1M941.92 406.99h1M939.25 403.13h1M974.06 454.3h0.6M941.63 396.46h0.8M948.34 380.51h1.2M969.19 441.71h1M950.37 397.25h0.8M972.38 437.06h1M941.61 461.9h0.6M948.12 379.63h0.6M950.81 427.94h1M960.98 370.84h0.8M972.37 474.55h1M940.41 388.6h1M961.23 425.48h0.8M949.04 422.01h0.8M948.34 456.01h1M939.93 368.06h0.8M958.25 465.54h1M963.36 476.03h1M945.75 464.78h0.8M940.56 380.54h0.6M961.12 464.54h1.2M944.48 375.46h1.2M969.94 441.1h1M940.23 386.76h1M973.22 474.93h1M947.4 474.15h1M946.44 386.49h1M948.11 376.05h1.2M941.64 473.26h0.8M970.25 409.63h1M964.54 421.35h1M940.18 459.55h1.2M965.02 456.97h0.8M971.36 450.32h0.6M968.35 431.41h0.8M941.66 370.69h1M973.14 408.18h1.2M967.32 449.81h0.6M962.33 373.4h1.2M947.68 374.34h1M947.05 450.72h0.8M965.23 475.28h1.2M969.04 374.59h1M961.74 374.68h0.8M943.4 420.03h1.2M949.07 423.85h1.2M974.36 427.5h1M973.81 470.86h0.6M949.03 374.56h1.2M974.38 409.33h0.8M941.29 376.11h1M972.9 380.85h1M970.53 444.77h0.8M956.52 464.13h1.2M939.49 366.4h1.2M963.14 411.41h0.8M942.95 403.11h1M965.63 459.98h0.6M972.44 387.92h0.6M971.06 398.46h1M940.94 409.7h0.6M951.59 413.94h1M969.35 397.43h0.6M968.65 397.99h0.8M947.58 395.76h1M945.43 407.82h1.2M970.43 456.94h1.2M971.48 471.36h0.8M964.5 371.54h1.2M961.8 398.06h0.6M971.43 427.61h0.8M973.75 395.14h0.8M949.43 428.42h1.2M942.91 438.04h0.6M946.08 467.47h1.2M947.39 385.57h0.6M950.09 407.25h0.8M970.54 449.96h1.2M946.16 396.27h0.6M969.15 376.37h0.8M967.92 474.42h0.8M939.76 445.47h1.2M973.46 420.86h0.6M952.69 469.8h1.2M973.6 393.83h0.6M946.66 383.03h0.6M972.49 446.83h1.2M941.66 453.01h0.6M966.76 392.05h0.6M961.84 400.02h0.8M961.15 425.16h1.2M963.75 378.56h0.6M949.41 471.68h0.8M960.24 367.17h1M974.47 397.2h1M961.8 464.98h1.2M939.65 412.12h1M940.59 387.74h1.2M941.52 391.52h1.2M971.91 391.4h0.6M951.64 410.39h0.6M967.29 448.78h0.6M945.99 474.62h1M966.17 387.72h1.2M946.57 451.17h1M942.52 435.84h0.8M970.87 420.33h0.6M972.76 382.39h1.2M940.56 368.65h0.8M945.23 416.36h1M964.98 477.72h0.8M950.45 386.78h1.2M939.75 440.42h1.2M968.81 476.32h1.2M944.69 366.32h1M941.51 413.06h0.6M949.71 456.04h0.6M940.37 419.03h1M955.31 455.97h0.6M970.95 403.98h1M950.66 472.82h0.6M949.99 396.87h0.6M964.58 432.7h0.6M939.47 392.19h1.2M964.36 418.16h1.2M967.03 468.32h1.2M943.38 421.61h0.6M967.49 448.71h0.8M960.46 402.71h1M960.05 423.33h1.2M965.7 393.7h0.6M961.98 419.95h1M944.38 413.77h0.6M974.16 395.67h0.6M946.1 413.16h1.2M944.83 380.89h1.2M965.53 460.86h0.6M966.67 398.92h1M965.17 388.31h0.8M945.29 392.38h1M970.43 430.77h1M940.93 394.19h0.8M974.27 377.46h1.2M970.38 391.88h1.2M971.52 370.52h1M946.98 371.64h0.8M972.09 407.69h0.8M966.6 471.92h0.6M951.19 370.19h1M943.69 388.85h1M939.98 448.01h0.8M967.93 457.71h1.2M963.02 386.74h1M941.41 369.52h1.2M942.25 410.27h0.8M961.61 376.21h0.8M974.18 440.79h1.2M972.91 400.98h1M966.2 455.85h0.8M972.51 414.63h0.8M953.86 457.88h1.2M966.43 380.56h0.6M971.35 375.97h1M965.14 385.23h1M948.8 424.37h0.6M942.52 420.94h0.8M949.46 459.78h0.6M973.72 420.07h0.6M941.71 445.78h0.8M961.65 461.94h1.2M960.73 387.96h1.2M945.19 390.43h1.2M972.39 383.53h1M943.03 393.67h0.8M940.08 428.98h0.6M962.64 402.31h1.2M960.18 427.61h1M961.97 400.52h0.8M939.44 435.32h1.2M960.87 457.72h0.8M967.78 410.84h0.6M943.22 414.23h0.6M967.48 422.49h0.6M940.06 380.59h1M966.59 423.29h0.6M965.67 466.23h0.8M939.53 373.43h0.6M945.57 475.95h1.2M948.96 456.83h0.8M946.56 459.3h1M944.32 466.41h1M971.18 417.12h1M956.68 469.03h0.8M947.15 407.69h0.8M945.16 384.06h1M963.07 466.29h0.8M967.12 395.61h0.6M961.51 406.3h1.2M970.37 377.72h1.2M965.17 407.6h1.2M974.26 430.66h1M950.51 375.12h0.8M944.96 449.28h0.6M949.27 423.8h1M961.61 476.21h1M946.58 398.59h1.2M940.32 420.7h0.6M939.4 366.29h1M949.53 424.59h0.8M943.41 407.02h1.2M944.31 367.58h0.8M964.07 416.5h0.6M961.58 463.58h1M939.01 438.23h1M960.27 423.97h1.2M947.55 467.19h0.6M940.82 368.83h0.8M947.16 372.54h0.6M939.04 427.7h0.8M943.72 388.35h1.2M967.88 385.56h1M940.9 436.11h1.2M964.35 366.71h1.2M965.43 418.11h1.2M944.91 477.62h1M946.96 370.35h1M970.69 469.62h1M964.22 395.79h1.2M963.29 468.73h1M949.24 470h0.8M941.68 422.83h0.8M947.97 392.44h0.8M972.61 449.57h1M945.51 409.54h0.8M952.26 461.42h1.2M938.83 368.97h0.8M941.4 468.01h0.8M939.78 378.53h0.8M951.02 381.89h0.6M939.71 381.5h0.6M940.97 432.13h1M945.78 472.91h0.6M970.27 450.65h1.2M942.46 389.04h0.6M939.82 472.32h0.6M968.3 436.73h1M949.2 403.69h1M939.35 394.75h1M940.34 451.1h1M966.29 433.42h1.2M969.25 435.25h0.6M967.01 369.5h0.6M969.64 376.18h1M944.73 366.15h0.8M940.54 404.95h0.6M956.29 455.24h0.8M973.42 432.37h1M967.95 471.09h0.8M961.52 375.06h0.6M961.21 405.83h1.2M972.03 465.89h0.6M944.76 476.03h0.8M972.58 380.21h0.6M951.15 402.59h0.8M969.85 416.43h1M944.7 415.15h1M955.23 465.13h0.8M965.77 458.57h0.8M964.64 475.17h1M960.3 405.05h0.8M950.41 387.2h0.6M945.64 382.91h0.8M961.57 377.97h0.8M970.47 417.96h0.6M952.96 454.59h0.8M960.33 411.33h0.8M971.29 414.16h1.2M969.06 440.8h0.8M961.22 376.96h1.2M947.33 410.81h0.8M947.6 413.44h1.2M939.31 462.16h0.8M970.8 402.74h0.6M973.69 370.27h0.8M944.39 453.56h0.8M964.42 423.37h1M972.73 389.53h0.8M943.01 476.26h1M961.55 394.28h1.2M963.74 405.44h1M942.53 399.99h1.2M972.44 425.03h0.8M974.39 473.62h1.2M946.23 380.48h0.6M967.74 437.04h1.2M967.93 382.38h1.2M968.61 405.73h0.8M948.23 408.13h1M973.98 442.03h1.2M938.7 446.84h1M950.13 420.31h0.6M962.33 406.59h1M969.36 372.39h1M966.83 381.72h1M961.39 367.68h0.6M946.15 374.06h1M947.6 377.37h0.8M969.35 386.79h1.2M951.07 383.1h1.2M967.1 384.81h0.6M962.66 466.12h1M954.39 464.86h0.6M948.12 392.23h0.8M956.04 467.41h1.2M947.48 384.44h0.6M944.37 401.92h1.2M962.55 460.14h1M953.93 477.99h0.6M945.1 406.36h0.6M939.34 371.14h1M967.71 376.53h1.2M956.05 466.53h0.6M946.28 412.55h0.8M950.79 462.51h1M958.55 468.18h1M958.54 458.59h1M951.39 421.3h1" stroke-width="1" stroke="#111"/>
<path d="M956.72 474.25l-0.51 0.97M940.86 446.49l-0.79 0.3M941.19 400.04l0.49 0.01M970.83 433.96l-0.52 0.96M970.43 434.29l-0.33 0.87M962.65 390.38l-0.38 0.66M965.43 378.15l0.28 0.18M965.83 467.55l-0.31 0.59M967.47 453.52l-0.11 0.55M949.77 413.4l0.39 0.61M961.32 469.72l0.85 0.15M940.84 380.07l-0.72 0.49M970.73 416.11l0.69 0.03M959.63 470.15l-0.77 0.05M961.41 390.35l0.28 0.14M939.66 442.21l1.18 0.47M942.5 462.65l0.29 0.13M963.96 393.65l-0.33 0.36M941.2 452.14l-0.72 0.91M964.31 376.27l-0.4 0.93M955.16 469.56l0.88 0.9M963.89 368.25l0.95 0.04M967.29 375.76l0.58 0.85M945.14 461.71l0.02 0.36M944.43 454.71l0.39 0.86M971.63 453.31l-0.12 0.58M941.56 474.13l-0.67 0.91M972.73 458.44l-0.19 0.58M954.07 464.69l0.37 0.91M959.96 465.57l-0.48 0.33M939.56 395.93l0.21 0.86M967.24 464.62l1.12 0.15M967.1 462.39l-0.13 0.56M968.44 455.77l-0.66 1.02" stroke-width="1.9" stroke="#000" stroke-linecap="round"/>
<path d="M952.6 351L952.6 415L945.2 438.3A11.9 11.9 0 1 0 966.7 436.4L964.6 429.8L958 436.6" stroke-width="1"/>
<path d="M959 351L959 420.2L950.6 440.8A6 6 0 1 0 958 436.6" stroke-width="1"/>
<path d="M956.5 351L956.5 488.6" stroke-width="0.9"/>
<path d="M940.3 442.5L973.6 442.5" stroke-width="0.9"/>
<text x="978.9" y="401" font-size="11" textLength="77" lengthAdjust="spacingAndGlyphs">4-地脚螺栓M16*300</text>
<path d="M1063 403.5L979.3 403.5L957.2 386.8" stroke-width="0.9"/>
<path d="M957.2 386.8L962.59 389.61L961.39 391.21Z" fill="#000" stroke="none"/>
<text x="997.4" y="417.3" font-size="12" textLength="42" lengthAdjust="spacingAndGlyphs">GB799-88</text>
<path d="M958.5 437.5L1155.7 437.5"/>
<path d="M1155.7 437.6L1145.5 439.25L1145.5 435.95Z" fill="#000" stroke="none"/>
<text class="d" x="1055.9" y="433.6">335</text>
<path d="M884.9 468.5L1226 468.5"/>
<path d="M906.8 468.3L896.6 469.95L896.6 466.65Z" fill="#000" stroke="none"/>
<path d="M937.6 468.3L944.6 467.2L944.6 469.4Z" fill="#000" stroke="none"/>
<path d="M1166.6 468.3L1156.4 469.95L1156.4 466.65Z" fill="#000" stroke="none"/>
<path d="M1204.7 468.3L1214.9 466.65L1214.9 469.95Z" fill="#000" stroke="none"/>
<path d="M1204.5 364.4L1204.5 478.3"/>
<text class="d" x="925.6" y="464.3">100</text>
<text class="d" x="1055.9" y="464.3">379</text>
<text class="d" x="1185.7" y="464.3">100</text>
<path d="M937.6 509.5L975.6 509.5"/>
<path d="M937.6 509.3L944.6 508.2L944.6 510.4Z" fill="#000" stroke="none"/>
<path d="M975.6 509.3L968.6 510.4L968.6 508.2Z" fill="#000" stroke="none"/>
<text x="956.8" y="505.3" text-anchor="middle" font-size="12">□100</text>
<!-- flange details -->
<circle cx="956.3" cy="621.3" r="38.6"/>
<circle cx="956.3" cy="621.3" r="15"/>
<circle cx="956.3" cy="621.3" r="31.2" stroke-dasharray="11 2.5 2 2.5"/>
<circle cx="934.5" cy="599.5" r="3.5" stroke-width="0.9"/>
<path d="M931.88 602.12L937.12 596.88" stroke-width="0.8"/>
<circle cx="934.5" cy="643.1" r="3.5" stroke-width="0.9"/>
<path d="M931.88 645.72L937.12 640.47" stroke-width="0.8"/>
<circle cx="978.1" cy="599.5" r="3.5" stroke-width="0.9"/>
<path d="M975.47 602.12L980.72 596.88" stroke-width="0.8"/>
<circle cx="978.1" cy="643.1" r="3.5" stroke-width="0.9"/>
<path d="M975.47 645.72L980.72 640.47" stroke-width="0.8"/>
<path d="M912.7 621.5L1002.5 621.5"/>
<path d="M956.5 577.1L956.5 667"/>
<text x="936.9" y="553.8" font-size="12" textLength="38" lengthAdjust="spacingAndGlyphs">进口法兰</text>
<text x="894.2" y="570.4" font-size="13">Φ185</text>
<path d="M894.2 573.5L926 573.5L989.3 670.8" stroke-width="0.9"/>
<path d="M934.9 587L927.96 579.34L930.73 577.55Z" fill="#000" stroke="none"/>
<path d="M977.6 653.2L984.54 660.86L981.77 662.65Z" fill="#000" stroke="none"/>
<text x="882.4" y="608" font-size="13">Φ145</text>
<path d="M882.4 611.5L916.5 611.5L1007 633.1" stroke-width="0.9"/>
<path d="M926.2 613.5L915.9 612.67L916.69 609.46Z" fill="#000" stroke="none"/>
<path d="M986.6 628.2L996.9 629.03L996.11 632.24Z" fill="#000" stroke="none"/>
<text x="896" y="661.8" font-size="13">Φ65</text>
<path d="M896 664.5L924.5 664.5L973.3 605" stroke-width="0.9"/>
<path d="M965.8 609.7L970.98 600.76L973.54 602.85Z" fill="#000" stroke="none"/>
<path d="M946.9 633L941.72 641.94L939.16 639.85Z" fill="#000" stroke="none"/>
<text x="1007.1" y="554.8" font-size="12" textLength="48" lengthAdjust="spacingAndGlyphs">4-Φ18均布</text>
<path d="M1055 558.5L998.1 558.5L971.6 612.3" stroke-width="0.9"/>
<path d="M979.7 596.4L982.77 586.54L985.73 588.01Z" fill="#000" stroke="none"/>
<path d="M976.5 602.6L973.43 612.46L970.47 610.99Z" fill="#000" stroke="none"/>
<circle cx="1150.3" cy="621.3" r="42"/>
<circle cx="1150.3" cy="621.3" r="11.5"/>
<circle cx="1150.3" cy="621.3" r="31.9" stroke-dasharray="11 2.5 2 2.5"/>
<circle cx="1127.3" cy="598.3" r="5" stroke-width="0.9"/>
<path d="M1123.55 602.05L1131.05 594.55" stroke-width="0.8"/>
<circle cx="1127.3" cy="644.3" r="5" stroke-width="0.9"/>
<path d="M1123.55 648.05L1131.05 640.55" stroke-width="0.8"/>
<circle cx="1173.3" cy="598.3" r="5" stroke-width="0.9"/>
<path d="M1169.55 602.05L1177.05 594.55" stroke-width="0.8"/>
<circle cx="1173.3" cy="644.3" r="5" stroke-width="0.9"/>
<path d="M1169.55 648.05L1177.05 640.55" stroke-width="0.8"/>
<path d="M1102.7 621.5L1198.4 621.5"/>
<path d="M1150.5 575.1L1150.5 671.4"/>
<text x="1129.2" y="553.8" font-size="12" textLength="37" lengthAdjust="spacingAndGlyphs">出口法兰</text>
<text x="1079.7" y="572.7" font-size="13">Φ165</text>
<path d="M1079.7 575.5L1111.5 575.5L1192 668.4" stroke-width="0.9"/>
<path d="M1122.3 588.2L1114.36 581.58L1116.85 579.42Z" fill="#000" stroke="none"/>
<path d="M1177.3 651.5L1185.24 658.12L1182.75 660.28Z" fill="#000" stroke="none"/>
<text x="1074.7" y="609.5" font-size="13">Φ125</text>
<path d="M1074.7 612.5L1108 612.5L1202.8 631.6" stroke-width="0.9"/>
<path d="M1118.5 614.6L1108.18 614.2L1108.83 610.97Z" fill="#000" stroke="none"/>
<path d="M1181 627.2L1191.32 627.6L1190.67 630.83Z" fill="#000" stroke="none"/>
<text x="1095.3" y="666.4" font-size="13">Φ50</text>
<path d="M1095.3 669.5L1123.3 669.5L1167.8 590.1" stroke-width="0.9"/>
<path d="M1157.2 608.9L1160.79 599.21L1163.66 600.83Z" fill="#000" stroke="none"/>
<path d="M1144.3 632L1140.71 641.69L1137.84 640.07Z" fill="#000" stroke="none"/>
<text x="1200" y="562.8" font-size="12" textLength="48" lengthAdjust="spacingAndGlyphs">4-Φ18均布</text>
<path d="M1247.9 566.5L1190.5 566.5L1162.8 616.5" stroke-width="0.9"/>
<path d="M1176.3 594.3L1180.96 585.08L1183.63 587.02Z" fill="#000" stroke="none"/>
<path d="M1170.3 602.5L1165.64 611.72L1162.97 609.78Z" fill="#000" stroke="none"/>
<!-- plan view -->
<path d="M19.6 520.5L698.5 520.5L698.5 948.7"/>
<path d="M90.5 520.2L90.5 948.7"/>
<path d="M19.1 818.5L698.5 818.5"/>
<path d="M29.5 520.2L29.5 818.2"/>
<path d="M29.5 520.2L31.15 530.4L27.85 530.4Z" fill="#000" stroke="none"/>
<path d="M29.5 818.2L27.85 808L31.15 808Z" fill="#000" stroke="none"/>
<text class="d" transform="translate(26.5 669.5) rotate(-90)">579</text>
<path d="M52.5 520.2L52.5 818.2"/>
<path d="M52.2 520.2L53.85 530.4L50.55 530.4Z" fill="#000" stroke="none"/>
<path d="M52.2 562.3L50.55 552.1L53.85 552.1Z" fill="#000" stroke="none"/>
<path d="M52.2 562.3L53.85 572.5L50.55 572.5Z" fill="#000" stroke="none"/>
<path d="M52.2 780.3L50.55 770.1L53.85 770.1Z" fill="#000" stroke="none"/>
<path d="M52.2 780.3L53.85 790.5L50.55 790.5Z" fill="#000" stroke="none"/>
<path d="M52.2 818.2L50.55 808L53.85 808Z" fill="#000" stroke="none"/>
<text class="d" transform="translate(49 541) rotate(-90)">100</text>
<text class="d" transform="translate(49 669.5) rotate(-90)">379</text>
<text class="d" transform="translate(49 799.5) rotate(-90)">100</text>
<path d="M75.5 574.4L75.5 769.5"/>
<path d="M75.8 574.4L77.45 584.6L74.15 584.6Z" fill="#000" stroke="none"/>
<path d="M75.8 769.5L74.15 759.3L77.45 759.3Z" fill="#000" stroke="none"/>
<text class="d" transform="translate(72.8 669.5) rotate(-90)">335</text>
<path d="M41.4 562.5L220.5 562.5"/>
<path d="M65.2 574.5L239.7 574.5"/>
<path d="M65 769.5L200.3 769.5"/>
<path d="M41.1 780.5L200.3 780.5"/>
<path d="M205 577.3L129.5 577.3" stroke-width="2.7"/>
<path d="M234.8 577.3L600 577.3" stroke-width="2.7"/>
<path d="M629.4 577.3L659 577.3" stroke-width="2.7"/>
<path d="M204.6 762.3L129.5 762.3" stroke-width="2.6"/>
<path d="M235.6 762.3L503.5 762.3M526.4 762.3L599.6 762.3" stroke-width="2.6"/>
<path d="M629.6 762.3L659 762.3" stroke-width="2.6"/>
<path d="M128.6 577.3L128.6 629.8M128.6 709L128.6 762.3" stroke-width="1.2"/>
<path d="M131.3 578L131.3 629.8M131.3 709L131.3 761.6" stroke-width="1.3"/>
<path d="M657.6 578L657.6 603M657.6 738.5L657.6 761.6" stroke-width="1.2"/>
<path d="M659.8 577.3L659.8 605.5M659.8 736L659.8 762.3" stroke-width="1.3"/>
<path d="M200.5 554.5L239.5 554.5L239.5 593.5L200.5 593.5Z"/>
<circle cx="220" cy="574" r="4.6" stroke-width="0.9"/>
<path d="M202 581C209 571.3 213 558.7 220 558.7C227 558.7 231 571.3 238 581" stroke-width="0.9"/>
<path d="M200.4 581.3L210.5 581.3C214 581.3 215 585.3 220 585.3C225 585.3 226 581.3 229.5 581.3L239.7 581.3" stroke-width="0.9"/>
<path d="M200.4 576L205.2 576L201.9 580.9Z" fill="#000" stroke="none"/>
<path d="M239.7 576L234.9 576L238.2 580.9Z" fill="#000" stroke="none"/>
<path d="M220.5 552L220.5 593.4"/>
<path d="M595.5 551.5L633.5 551.5L633.5 589.5L595.5 589.5Z"/>
<circle cx="614.1" cy="570.3" r="4.6" stroke-width="0.9"/>
<path d="M596.1 581C603.1 571.3 607.1 558.7 614.1 558.7C621.1 558.7 625.1 571.3 632.1 581" stroke-width="0.9"/>
<path d="M595.4 581.3L604.6 581.3C608.1 581.3 609.1 585.3 614.1 585.3C619.1 585.3 620.1 581.3 623.6 581.3L633.8 581.3" stroke-width="0.9"/>
<path d="M595.4 576L600.2 576L596.9 580.9Z" fill="#000" stroke="none"/>
<path d="M633.8 576L629 576L632.3 580.9Z" fill="#000" stroke="none"/>
<path d="M614.5 549.7L614.5 589.4"/>
<path d="M595.4 570.5L633.8 570.5"/>
<path d="M200.5 750.5L239.5 750.5L239.5 788.5L200.5 788.5Z"/>
<circle cx="219.6" cy="769.5" r="4.6" stroke-width="0.9"/>
<path d="M201.6 758.6C208.6 768.3 212.6 780.9 219.6 780.9C226.6 780.9 230.6 768.3 237.6 758.6" stroke-width="0.9"/>
<path d="M200.3 758.3L210.1 758.3C213.6 758.3 214.6 754.3 219.6 754.3C224.6 754.3 225.6 758.3 229.1 758.3L239.9 758.3" stroke-width="0.9"/>
<path d="M200.3 763.6L205.1 763.6L201.8 758.7Z" fill="#000" stroke="none"/>
<path d="M239.9 763.6L235.1 763.6L238.4 758.7Z" fill="#000" stroke="none"/>
<path d="M220.5 750.4L220.5 892.7"/>
<path d="M595.5 750.5L633.5 750.5L633.5 788.5L595.5 788.5Z"/>
<circle cx="614" cy="769.5" r="4.6" stroke-width="0.9"/>
<path d="M596 758.6C603 768.3 607 780.9 614 780.9C621 780.9 625 768.3 632 758.6" stroke-width="0.9"/>
<path d="M595.4 758.3L604.5 758.3C608 758.3 609 754.3 614 754.3C619 754.3 620 758.3 623.5 758.3L633.9 758.3" stroke-width="0.9"/>
<path d="M595.4 763.6L600.2 763.6L596.9 758.7Z" fill="#000" stroke="none"/>
<path d="M633.9 763.6L629.1 763.6L632.4 758.7Z" fill="#000" stroke="none"/>
<path d="M614.5 750.4L614.5 892.7"/>
<path d="M595.4 769.5L633.9 769.5"/>
<text x="163.1" y="540.2" font-size="13" textLength="40" lengthAdjust="spacingAndGlyphs">4-Φ18.5</text>
<path d="M163.1 543.5L208.4 543.5L229.4 597.4" stroke-width="0.9"/>
<path d="M218 569.6L214.34 563.51L216.58 562.64Z" fill="#000" stroke="none"/>
<path d="M221.7 578.5L225.36 584.59L223.12 585.46Z" fill="#000" stroke="none"/>
<text x="739.7" y="511.5" font-size="11" textLength="43" lengthAdjust="spacingAndGlyphs">基础尺寸图</text>
<path d="M788.9 517.5L731.7 517.5L699.5 543.2" stroke-width="0.9"/>
<path d="M699.5 543.2L706.33 535.74L708.22 538.07Z" fill="#000" stroke="none"/>
<text x="736.7" y="557.3" font-size="10" textLength="21" lengthAdjust="spacingAndGlyphs">底座5</text>
<path d="M775.8 562.5L733 562.5L661.4 589" stroke-width="0.9"/>
<path d="M661.4 589L670.24 584.09L671.29 586.9Z" fill="#000" stroke="none"/>
<path d="M77.8 669.5L711 669.5" stroke-dasharray="14 2.5 2 2.5"/>
<path d="M172.4 630.4L109.5 630.4Q107.8 630.4 107.8 632L107.8 706.8Q107.8 708.4 109.5 708.4L173.4 708.4"/>
<path d="M229.1 630.4L293.6 630.4Q295.3 630.4 295.3 632L295.3 706.8Q295.3 708.4 293.6 708.4L228.1 708.4"/>
<path d="M114.8 630.4L114.8 708.4M116.7 630.4L116.7 708.4M277.8 630.4L277.8 708.4M279.8 630.4L279.8 708.4M287.7 630.4L287.7 708.4"/>
<path d="M102.5 632.5L107.5 632.5L107.5 640.5L102.5 640.5Z" stroke-width="0.9"/>
<path d="M102.5 698.5L107.5 698.5L107.5 707.5L102.5 707.5Z" stroke-width="0.9"/>
<path d="M102.5 640.8L102.5 698.8"/>
<path d="M105.5 640.8L105.5 698.8" stroke-width="0.8"/>
<path d="M98.9 636.5L120.7 636.5" stroke-width="0.9"/>
<path d="M98.9 703.5L120.7 703.5" stroke-width="0.9"/>
<path d="M102.8 640.8C90 645.5 83.4 656 83.4 669.5C83.4 683 90 693.8 102.8 698.8"/>
<path d="M295.5 632.5L300.5 632.5L300.5 639.5L295.5 639.5Z" stroke-width="0.9"/>
<path d="M295.5 699.5L300.5 699.5L300.5 707.5L295.5 707.5Z" stroke-width="0.9"/>
<path d="M266.8 636.5L304.6 636.5" stroke-width="0.9"/>
<path d="M266.8 703.5L304.6 703.5" stroke-width="0.9"/>
<path d="M162.5 610.5L239.5 610.5L239.5 618.5L162.5 618.5Z"/>
<path d="M178.8 618.5C178.8 626 178 630.4 172.4 630.4M222.5 618.5C222.5 626 223.5 630.4 229.1 630.4"/>
<path d="M177.4 629.8Q200.6 648.8 225.1 629.8"/>
<path d="M165.5 717.5L236.5 717.5L236.5 729.5L165.5 729.5Z"/>
<path d="M180.4 717.3C180.4 711 179 708.4 173.4 708.4M221.5 717.3C221.5 711 222.5 708.4 228.1 708.4"/>
<path d="M176.8 708.6Q200.6 689.2 225.1 708.6"/>
<path d="M200.5 605.6L200.5 643.3"/>
<circle cx="200.6" cy="615.3" r="3.5" stroke-width="0.9"/>
<circle cx="200.6" cy="615.3" r="2.3" stroke-width="0.8"/>
<path d="M200.5 693.8L200.5 733.6"/>
<circle cx="200.6" cy="724.3" r="3.3" stroke-width="0.9"/>
<path d="M195 724.5L206.2 724.5" stroke-width="0.8"/>
<path d="M200.5 718.7L200.5 729.9" stroke-width="0.8"/>
<path d="M198.4 628.6L202.8 628.6L200.6 633.8Z" stroke-width="0.8"/>
<path d="M198.4 708.4L202.8 708.4L200.6 713.4Z" stroke-width="0.8"/>
<path d="M164.5 647.5L225.5 647.5L225.5 691.5L164.5 691.5Z"/>
<circle cx="170" cy="652.7" r="4.3" stroke-width="0.9"/>
<circle cx="170" cy="652.7" r="2.6" stroke-width="0.9"/>
<path d="M164.5 652.5L175.5 652.5" stroke-width="0.8"/>
<path d="M170.5 647.2L170.5 658.2" stroke-width="0.8"/>
<circle cx="170" cy="686.5" r="4.3" stroke-width="0.9"/>
<circle cx="170" cy="686.5" r="2.6" stroke-width="0.9"/>
<path d="M164.5 686.5L175.5 686.5" stroke-width="0.8"/>
<path d="M170.5 681L170.5 692" stroke-width="0.8"/>
<circle cx="196.9" cy="652.7" r="4.3" stroke-width="0.9"/>
<circle cx="196.9" cy="652.7" r="2.6" stroke-width="0.9"/>
<path d="M191.4 652.5L202.4 652.5" stroke-width="0.8"/>
<path d="M196.5 647.2L196.5 658.2" stroke-width="0.8"/>
<circle cx="196.9" cy="686.5" r="4.3" stroke-width="0.9"/>
<circle cx="196.9" cy="686.5" r="2.6" stroke-width="0.9"/>
<path d="M191.4 686.5L202.4 686.5" stroke-width="0.8"/>
<path d="M196.5 681L196.5 692" stroke-width="0.8"/>
<circle cx="220.5" cy="652.7" r="4.3" stroke-width="0.9"/>
<circle cx="220.5" cy="652.7" r="2.6" stroke-width="0.9"/>
<path d="M215 652.5L226 652.5" stroke-width="0.8"/>
<path d="M220.5 647.2L220.5 658.2" stroke-width="0.8"/>
<circle cx="220.5" cy="686.5" r="4.3" stroke-width="0.9"/>
<circle cx="220.5" cy="686.5" r="2.6" stroke-width="0.9"/>
<path d="M215 686.5L226 686.5" stroke-width="0.8"/>
<path d="M220.5 681L220.5 692" stroke-width="0.8"/>
<path d="M139.5 654.5L163.5 654.5L163.5 685.5L139.5 685.5Z"/>
<path d="M145.5 654.1L145.5 685.5"/>
<path d="M164.5 652.6L176.4 653.7L215.2 658.3Q222 659.3 224.1 663.6L224.1 675.2Q222 680 215.2 680.6L176.4 685.2L164.5 686.3"/>
<path d="M224.5 663.5L228.5 663.5L228.5 676.5L224.5 676.5Z" stroke-width="0.9"/>
<circle cx="178" cy="669.5" r="12.4" stroke-width="0.9"/>
<circle cx="178" cy="669.5" r="10.6" stroke-width="0.9"/>
<path d="M186.8 669.5L182.4 677.5L173.6 677.5L169.2 669.5L173.6 661.5L182.4 661.5Z" stroke-width="0.9"/>
<path d="M178.5 656.7L178.5 681.5" stroke-width="0.9"/>
<path d="M115.8 658.3L128 658.3Q129.7 658.3 129.7 660L129.7 679.4Q129.7 681.1 128 681.1L115.8 681.1Z"/>
<path d="M119.5 658.3L119.5 681.1" stroke-width="0.8"/>
<path d="M122.5 658.3L122.5 681.1" stroke-width="0.8"/>
<path d="M127.5 658.3L127.5 681.1" stroke-width="0.8"/>
<path d="M129.7 660.5L139.2 660.5"/>
<path d="M129.7 677.5L139.2 677.5"/>
<circle cx="140.2" cy="669.5" r="4" stroke-width="1"/>
<circle cx="140.2" cy="669.5" r="2.4" stroke-width="0.9"/>
<path d="M103.5 666.5L109.5 666.5L109.5 672.5L103.5 672.5Z" stroke-width="0.9"/>
<path d="M109.5 667.5L115.5 667.5L115.5 671.5L109.5 671.5Z" stroke-width="0.9"/>
<path d="M255.9 667L255.9 675.5" stroke-width="1.8"/>
<path d="M254.4 669.5L255.9 663.6L257.4 669.5Z" stroke-width="0.8"/>
<path d="M295.3 648.1L333.6 648.1Q335.4 648.1 335.4 649.9L335.4 689.7Q335.4 691.5 333.6 691.5L295.3 691.5"/>
<circle cx="302.2" cy="669.5" r="7.8" stroke-width="0.9"/>
<circle cx="302.2" cy="669.5" r="4.4" stroke-width="1"/>
<path d="M302.5 659.6L302.5 679.5" stroke-width="0.9"/>
<path d="M295.5 661.7L295.5 677.3"/>
<path d="M337.5 612.5L401.5 612.5L401.5 727.5L337.5 727.5Z"/>
<path d="M337.2 621.5L401.6 621.5"/>
<path d="M337.2 717.5L401.6 717.5"/>
<circle cx="344.6" cy="616.7" r="2.4" stroke-width="1.4"/>
<path d="M340.1 616.5L349.1 616.5" stroke-width="0.8"/>
<path d="M344.5 612.7L344.5 620.7" stroke-width="0.8"/>
<circle cx="344.6" cy="722.3" r="2.4" stroke-width="1.4"/>
<path d="M340.1 722.5L349.1 722.5" stroke-width="0.8"/>
<path d="M344.5 718.3L344.5 726.3" stroke-width="0.8"/>
<circle cx="394" cy="616.7" r="2.4" stroke-width="1.4"/>
<path d="M389.5 616.5L398.5 616.5" stroke-width="0.8"/>
<path d="M394.5 612.7L394.5 620.7" stroke-width="0.8"/>
<circle cx="394" cy="722.3" r="2.4" stroke-width="1.4"/>
<path d="M389.5 722.5L398.5 722.5" stroke-width="0.8"/>
<path d="M394.5 718.3L394.5 726.3" stroke-width="0.8"/>
<path d="M346.5 638.5L370.5 638.5L370.5 701.5L346.5 701.5Z"/>
<path d="M357.6 638L357.6 701.5" stroke-width="2.2"/>
<path d="M337.2 656C343 656 346.3 653 346.3 647.5M337.2 683C343 683 346.3 686 346.3 691.5"/>
<path d="M335.4 663.5L357.6 663.5"/>
<path d="M335.4 674.5L357.6 674.5"/>
<path d="M337.2 668.5L356 668.5" stroke-width="0.8"/>
<path d="M337.2 670.5L356 670.5" stroke-width="0.8"/>
<path d="M370.7 645.2Q370.9 650.6 376.2 650.6L400.8 650.6L400.8 688.2L376.2 688.2Q370.9 688.2 370.7 693.6"/>
<path d="M363.5 659.5L404.5 659.5L404.5 679.5L363.5 679.5Z"/>
<path d="M364.5 666.5L395.5 666.5L395.5 672.5L364.5 672.5Z" stroke-width="0.9"/>
<path d="M405.5 653.5L412.5 653.5L412.5 685.5L405.5 685.5Z"/>
<path d="M412.5 643.5L416.5 643.5L416.5 696.5L412.5 696.5Z"/>
<path d="M442.3 599.9L431 599.9C422 599.9 416.1 606 416.1 615L416.1 723.4C416.1 732.4 422 738.4 431 738.4L442.3 738.4"/>
<path d="M634.3 593.5L442.5 593.5L442.5 746.5L497.5 746.5"/>
<path d="M532.9 746.5L633 746.5"/>
<path d="M634.3 593.5C655 593.5 671.5 607 671.5 628.5L671.5 711C671.5 732 655 746.4 633 746.4"/>
<path d="M593.5 593.5L593.5 746.4"/>
<rect x="470.4" y="620.5" width="89.1" height="113.4" rx="2.5"/>
<rect x="475.5" y="625" width="79.5" height="103.9" rx="4"/>
<circle cx="456.3" cy="608.7" r="3.4" stroke-width="0.9"/>
<path d="M450.9 608.5L461.7 608.5" stroke-width="0.8"/>
<path d="M456.5 603.3L456.5 614.1" stroke-width="0.8"/>
<circle cx="456.3" cy="730.3" r="3.4" stroke-width="0.9"/>
<path d="M450.9 730.5L461.7 730.5" stroke-width="0.8"/>
<path d="M456.5 724.9L456.5 735.7" stroke-width="0.8"/>
<circle cx="573.5" cy="608.7" r="3.4" stroke-width="0.9"/>
<path d="M568.1 608.5L578.9 608.5" stroke-width="0.8"/>
<path d="M573.5 603.3L573.5 614.1" stroke-width="0.8"/>
<circle cx="573.5" cy="730.3" r="3.4" stroke-width="0.9"/>
<path d="M568.1 730.5L578.9 730.5" stroke-width="0.8"/>
<path d="M573.5 724.9L573.5 735.7" stroke-width="0.8"/>
<circle cx="576.5" cy="669.5" r="11.6" stroke-width="0.9"/>
<path d="M576.5 655.3L576.5 684" stroke-width="0.9"/>
<path d="M566.2 667.4L586.8 667.4Q589 669.5 586.8 671.6L566.2 671.6Q564 669.5 566.2 667.4Z" stroke-width="0.9"/>
<path d="M497.5 733.9L497.5 760.6"/>
<path d="M532.5 733.9L532.5 760.6"/>
<path d="M503.5 763.5L505.5 765L505.5 780.5L524.5 780.5L524.5 765L526.4 763.5"/>
<path d="M514.5 717.2L514.5 788.8"/>
<path d="M128.5 763L128.5 918.7"/>
<path d="M660.5 745L660.5 918.7"/>
<path d="M220.4 882.5L660.4 882.5"/>
<path d="M220.4 882.4L230.6 880.75L230.6 884.05Z" fill="#000" stroke="none"/>
<path d="M614.8 882.4L604.6 884.05L604.6 880.75Z" fill="#000" stroke="none"/>
<path d="M614.8 882.4L625 880.75L625 884.05Z" fill="#000" stroke="none"/>
<path d="M660.4 882.4L650.2 884.05L650.2 880.75Z" fill="#000" stroke="none"/>
<text class="d" x="417" y="879">500</text>
<text class="d" x="637" y="879">112</text>
<path d="M90.5 908.5L698.5 908.5"/>
<path d="M90.5 908.6L100.7 906.95L100.7 910.25Z" fill="#000" stroke="none"/>
<path d="M128.6 908.6L118.4 910.25L118.4 906.95Z" fill="#000" stroke="none"/>
<path d="M128.6 908.6L138.8 906.95L138.8 910.25Z" fill="#000" stroke="none"/>
<path d="M660.4 908.6L650.2 910.25L650.2 906.95Z" fill="#000" stroke="none"/>
<path d="M660.4 908.6L670.6 906.95L670.6 910.25Z" fill="#000" stroke="none"/>
<path d="M698.5 908.6L688.3 910.25L688.3 906.95Z" fill="#000" stroke="none"/>
<text class="d" x="108.7" y="905.4">100</text>
<text class="d" x="394.5" y="905.4">725</text>
<text class="d" x="679" y="905.4">100</text>
<path d="M90.5 938.5L698.5 938.5"/>
<path d="M90.5 938.6L100.7 936.95L100.7 940.25Z" fill="#000" stroke="none"/>
<path d="M698.5 938.6L688.3 940.25L688.3 936.95Z" fill="#000" stroke="none"/>
<text class="d" x="394.5" y="935.2">925</text>
<!-- title block -->
<path d="M724.8 834.5L1344.6 834.5"/>
<path d="M724.5 834.6L724.5 989.2"/>
<path d="M724.8 851.5L930.7 851.5"/>
<path d="M724.8 868.5L930.7 868.5"/>
<path d="M724.8 885.5L930.7 885.5"/>
<path d="M724.8 903.5L930.7 903.5"/>
<path d="M724.8 920.5L1344.6 920.5"/>
<path d="M751.5 834.6L751.5 920.2"/>
<path d="M779.5 834.6L779.5 920.2"/>
<path d="M844.5 834.6L844.5 920.2"/>
<path d="M896.5 834.6L896.5 920.2"/>
<path d="M930.5 834.6L930.5 989.2"/>
<path d="M724.8 937.5L930.7 937.5"/>
<path d="M724.8 954.5L930.7 954.5"/>
<path d="M724.8 972.5L930.7 972.5"/>
<path d="M775.5 920.2L775.5 989.2"/>
<path d="M827.5 920.2L827.5 989.2"/>
<path d="M879.5 920.2L879.5 989.2"/>
<path d="M1137.5 834.6L1137.5 989.2"/>
<path d="M1137.7 879.5L1344.6 879.5"/>
<path d="M1137.7 896.5L1344.6 896.5"/>
<path d="M1137.7 937.5L1344.6 937.5"/>
<path d="M1163.5 896.5L1163.5 920.2"/>
<path d="M1189.5 896.5L1189.5 920.2"/>
<path d="M1214.5 896.5L1214.5 920.2"/>
<path d="M1240.5 879L1240.5 937.7"/>
<path d="M1292.5 879L1292.5 920.2"/>
<text class="b" x="729.7" y="916.3" font-size="11" textLength="18.6" lengthAdjust="spacingAndGlyphs">标记</text>
<text class="b" x="754.8" y="916.3" font-size="11" textLength="17.8" lengthAdjust="spacingAndGlyphs">处数</text>
<text class="b" x="781.2" y="916.3" font-size="10" textLength="64" lengthAdjust="spacing">更改文件号</text>
<text class="b" x="850.9" y="916.3" font-size="11" textLength="16.6" lengthAdjust="spacingAndGlyphs">签字</text>
<text class="b" x="897.4" y="916.3" font-size="10">日</text>
<text class="b" x="915.8" y="916.3" font-size="10">期</text>
<text class="b" x="730" y="934.6" font-size="9">设</text>
<text class="b" x="763.4" y="934.6" font-size="9">计</text>
<text class="b" x="834.7" y="934.6" font-size="9">标</text>
<text class="b" x="868" y="934.6" font-size="9">检</text>
<text class="b" x="730" y="951.6" font-size="9">绘</text>
<text class="b" x="763.4" y="951.6" font-size="9">图</text>
<text class="b" x="730" y="968.6" font-size="9">校</text>
<text class="b" x="763.4" y="968.6" font-size="9">核</text>
<text class="b" x="834.7" y="968.6" font-size="9">批</text>
<text class="b" x="868" y="968.6" font-size="9">准</text>
<text class="b" x="730" y="986.4" font-size="9">审</text>
<text class="b" x="763.4" y="986.4" font-size="9">定</text>
<text class="b" x="834.7" y="986.4" font-size="9">日</text>
<text class="b" x="868" y="986.4" font-size="9">期</text>
<text class="b" x="834.7" y="951.6" font-size="9" textLength="27" lengthAdjust="spacingAndGlyphs">工艺会签</text>
<text class="b" x="1145.2" y="892.2" font-size="10">图</text>
<text class="b" x="1171" y="892.2" font-size="10">样</text>
<text class="b" x="1195.4" y="892.2" font-size="10">标</text>
<text class="b" x="1221" y="892.2" font-size="10">记</text>
<text class="b" x="1245.2" y="892.2" font-size="10">重</text>
<text class="b" x="1272" y="892.2" font-size="10">量</text>
<text class="b" x="1298.4" y="892.2" font-size="10">比</text>
<text class="b" x="1324.2" y="892.2" font-size="10">例</text>
<text x="1147.5" y="913.5" font-size="16">S</text>
<text class="d" x="1319.5" y="913.5">1:9</text>
<text class="b" x="1145.4" y="933" font-size="11">共</text>
<text class="d" x="1188.6" y="935">1</text>
<text class="b" x="1208" y="933" font-size="11">张</text>
<text class="b" x="1261" y="933" font-size="11">第</text>
<text class="d" x="1292.2" y="935">1</text>
<text class="b" x="1306.3" y="933" font-size="11">张</text>
<text class="g" x="1178" y="867" font-size="24" textLength="119" lengthAdjust="spacingAndGlyphs">轻质燃油输送泵</text>
<text x="949.6" y="888.7" font-size="26" textLength="114" lengthAdjust="spacingAndGlyphs" style="fill:#333">SNH80R46U12.1</text>
<text class="g" x="1064.6" y="884.5" font-size="18" textLength="53" lengthAdjust="spacingAndGlyphs">三螺杆泵</text>
<text class="g" x="942" y="960.6" font-size="13">材</text>
<text class="g" x="961.2" y="960.6" font-size="13">料</text>
<text class="g" x="977.5" y="962.8" font-size="14">:</text>
<text class="g" x="993.5" y="961" font-size="22" textLength="84" lengthAdjust="spacingAndGlyphs">机组安装图</text>
<text class="g" x="1142.6" y="971" font-size="20" textLength="176" lengthAdjust="spacingAndGlyphs">河北远东泵业制造有限公司</text>
</svg>
</body></html>
